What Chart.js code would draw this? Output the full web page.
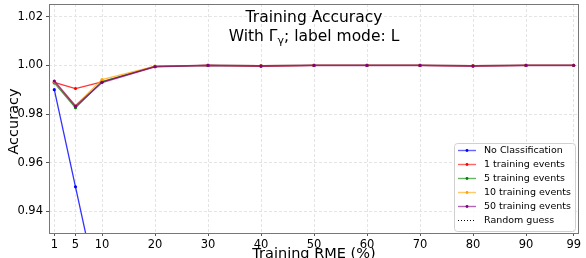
<!DOCTYPE html>
<html>
<head>
<meta charset="utf-8">
<script src="https://cdn.jsdelivr.net/npm/chart.js@4"></script>
<style>
  html, body { margin: 0; padding: 0; background: #fff; }
  #wrap { width: 586px; height: 258px; }
</style>
</head>
<body>
<div id="wrap"><canvas id="accChart" width="586" height="258"></canvas></div>
<script>
// data
const rme = [1, 5, 10, 20, 30, 40, 50, 60, 70, 80, 90, 99];
const noClassification = [0.990, 0.950, 0.900, 0.800, 0.700, 0.600, 0.500, 0.400, 0.300, 0.200, 0.100, 0.010];
const events1 = [0.9930, 0.9905, 0.9932, 0.9995, 1.0, 0.9996, 1.0, 1.0, 1.0, 0.9997, 1.0, 1.0];
const events5 = [0.9928, 0.9826, 0.9934, 0.9996, 1.0, 0.9999, 1.0, 1.0, 1.0, 0.9999, 1.0, 1.0];
const events10 = [0.9932, 0.9835, 0.9942, 0.9997, 1.0, 0.9999, 1.0, 1.0, 1.0, 0.9999, 1.0, 1.0];
const events50 = [0.9936, 0.9832, 0.9930, 0.9995, 1.0, 0.9998, 1.0, 1.0, 1.0, 0.9998, 1.0, 1.0];
const randomGuess = [0.5, 0.5, 0.5, 0.5, 0.5, 0.5, 0.5, 0.5, 0.5, 0.5, 0.5, 0.5];
const xTicks = [1, 5, 10, 20, 30, 40, 50, 60, 70, 80, 90, 99];
const yTicks = [0.94, 0.96, 0.98, 1.00, 1.02];

const FONT = "'DejaVu Sans', sans-serif";

function pts(vals) {
  return rme.map((x, i) => ({ x: x, y: vals[i] }));
}

function series(label, vals, rgb, order, width, alpha) {
  return {
    label, data: pts(vals),
    borderColor: 'rgba(' + rgb + ',' + alpha + ')', backgroundColor: 'rgb(' + rgb + ')',
    pointBorderColor: 'rgb(' + rgb + ')',
    borderWidth: width, pointRadius: 1.6, pointHoverRadius: 1.6,
    pointBorderWidth: 0, tension: 0, order
  };
}

const datasets = [
  series('No Classification', noClassification, '0,0,255', 6, 1.3, 0.8),
  series('1 training events', events1, '255,0,0', 5, 1.2, 0.8),
  series('5 training events', events5, '0,128,0', 4, 1.3, 0.75),
  series('10 training events', events10, '255,165,0', 3, 1.3, 0.75),
  series('50 training events', events50, '128,0,128', 2, 1.7, 0.7),
  {
    label: 'Random guess', data: pts(randomGuess),
    borderColor: '#000', borderWidth: 1, borderDash: [1, 2],
    pointRadius: 0, order: 1
  }
];

// draws spines, title, axis labels and legend
const decorations = {
  id: 'decorations',
  afterDatasetsDraw(chart) {
    const c = chart.ctx;
    const a = chart.chartArea;
    c.save();
    c.strokeStyle = '#777';
    c.lineWidth = 1;
    c.strokeRect(a.left + 0.5, a.top + 0.5, a.right - a.left - 1, a.bottom - a.top);

    // title inside plot
    const cx = (a.left + a.right) / 2;
    c.fillStyle = '#000';
    c.textBaseline = 'alphabetic';
    c.textAlign = 'center';
    c.font = '15.5px ' + FONT;
    c.fillText('Training Accuracy', cx, 22);
    const p1 = 'With Γ', p2 = 'γ', p3 = '; label mode: L';
    const w1 = c.measureText(p1).width, w3 = c.measureText(p3).width;
    c.font = '11px ' + FONT;
    const w2 = c.measureText(p2).width;
    let x0 = cx - (w1 + w2 + w3) / 2;
    c.textAlign = 'left';
    c.font = '15.5px ' + FONT;
    c.fillText(p1, x0, 41);
    c.font = '11px ' + FONT;
    c.fillText(p2, x0 + w1, 44);
    c.font = '15.5px ' + FONT;
    c.fillText(p3, x0 + w1 + w2, 41);

    // axis titles
    c.textAlign = 'center';
    c.font = '14.5px ' + FONT;
    c.textBaseline = 'top';
    c.fillText('Training RME (%)', cx, 247);
    c.save();
    c.translate(14, (a.top + a.bottom) / 2 + 3);
    c.rotate(-Math.PI / 2);
    c.textBaseline = 'middle';
    c.fillText('Accuracy', 0, 0);
    c.restore();

    // legend
    const lx = 454, ly = 143, lw = 121, lh = 88;
    c.fillStyle = 'rgba(255,255,255,0.85)';
    c.strokeStyle = '#d0d0d0';
    c.beginPath();
    c.roundRect(lx + 0.5, ly + 0.5, lw, lh, 3);
    c.fill();
    c.stroke();
    c.font = '9.5px ' + FONT;
    c.textAlign = 'left';
    c.textBaseline = 'middle';
    chart.data.datasets.forEach((ds, i) => {
      const y = 150 + i * 14;
      c.save();
      c.strokeStyle = ds.pointBorderColor || ds.borderColor;
      c.lineWidth = ds.borderDash ? 1 : 1.4;
      c.globalAlpha = ds.borderDash ? 1 : 0.6;
      c.setLineDash(ds.borderDash || []);
      c.beginPath();
      c.moveTo(458, y + 0.5);
      c.lineTo(476, y + 0.5);
      c.stroke();
      if (!ds.borderDash) {
        c.globalAlpha = 1;
        c.fillStyle = ds.backgroundColor;
        c.beginPath();
        c.arc(467, y + 0.5, 1.4, 0, Math.PI * 2);
        c.fill();
      }
      c.restore();
      c.fillStyle = '#000';
      c.fillText(ds.label, 484, y + 1);
    });
    c.restore();
  }
};

new Chart(document.getElementById('accChart'), {
  type: 'line',
  data: { datasets },
  options: {
    responsive: false,
    animation: false,
    layout: { padding: { top: 4, right: 7, left: 0, bottom: 0 } },
    plugins: { legend: { display: false }, tooltip: { enabled: false } },
    scales: {
      x: {
        type: 'linear', min: 0, max: 100,
        afterBuildTicks: s => { s.ticks = xTicks.map(v => ({ value: v })); },
        afterFit: s => { s.height = 25; s.paddingLeft = 0; s.paddingRight = 0; },
        grid: { color: '#e4e4e4', tickColor: '#555', tickLength: 3 },
        border: { display: false, dash: [3, 2] },
        ticks: { color: '#000', font: { family: FONT, size: 11.5 }, padding: 2, maxRotation: 0, autoSkip: false }
      },
      y: {
        type: 'linear', min: 0.931, max: 1.0253,
        afterBuildTicks: s => { s.ticks = yTicks.map(v => ({ value: v })); },
        afterFit: s => { s.width = 49; s.paddingTop = 0; s.paddingBottom = 0; },
        grid: { color: '#e4e4e4', tickColor: '#555', tickLength: 3 },
        border: { display: false, dash: [3, 2] },
        ticks: { color: '#000', font: { family: FONT, size: 11.5 }, padding: 3, callback: v => v.toFixed(2) }
      }
    }
  },
  plugins: [decorations]
});
</script>
</body>
</html>
